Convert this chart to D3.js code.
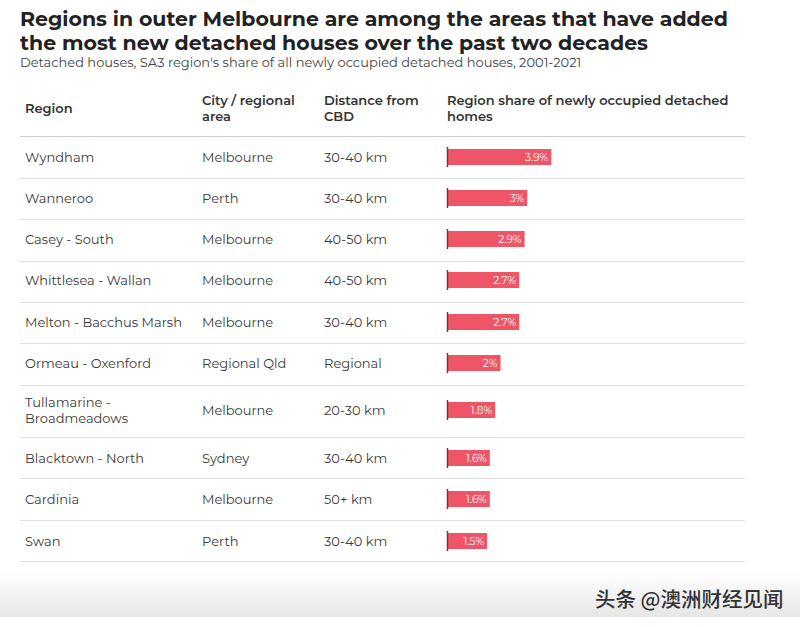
<!DOCTYPE html>
<html><head><meta charset="utf-8">
<script src="https://cdn.jsdelivr.net/npm/d3@7"></script>
<style>body{margin:0;background:#fff;}svg{display:block;}</style>
</head><body>
<script>
const regions = ["Wyndham","Wanneroo","Casey - South","Whittlesea - Wallan","Melton - Bacchus Marsh","Ormeau - Oxenford","Tullamarine - Broadmeadows","Blacktown - North","Cardinia","Swan"];
const areas = ["Melbourne","Perth","Melbourne","Melbourne","Melbourne","Regional Qld","Melbourne","Sydney","Melbourne","Perth"];
const distances = ["30-40 km","30-40 km","40-50 km","40-50 km","30-40 km","Regional","20-30 km","30-40 km","50+ km","30-40 km"];
const shares = [3.9,3.0,2.9,2.7,2.7,2.0,1.8,1.6,1.6,1.5];
const shareLabels = ["3.9%","3%","2.9%","2.7%","2.7%","2%","1.8%","1.6%","1.6%","1.5%"];
const headers = [["Region"],["City / regional","area"],["Distance from","CBD"],["Region share of newly occupied detached","homes"]];

const W=800,H=627;
const font="Montserrat, 'Open Sans', 'DejaVu Sans', sans-serif";
const svg=d3.select("body").append("svg").attr("width",W).attr("height",H).style("font-family",font);

const grad=svg.append("defs").append("linearGradient").attr("id","g").attr("x1",0).attr("x2",0).attr("y1",0).attr("y2",1);
grad.append("stop").attr("offset","0%").attr("stop-color","#ffffff");
grad.append("stop").attr("offset","100%").attr("stop-color","#e6e6e6");
svg.append("rect").attr("x",0).attr("y",572).attr("width",W).attr("height",45).attr("fill","url(#g)");

svg.append("text").attr("x",20).attr("y",26).attr("font-size",20.5).attr("font-weight",700).attr("fill","#222").text("Regions in outer Melbourne are among the areas that have added");
svg.append("text").attr("x",20).attr("y",50).attr("font-size",20.5).attr("font-weight",700).attr("fill","#222").text("the most new detached houses over the past two decades");
svg.append("text").attr("x",20).attr("y",67).attr("font-size",13).attr("fill","#444").text("Detached houses, SA3 region's share of all newly occupied detached houses, 2001-2021");

const colX=[25,202,324,447];
headers.forEach((h,i)=>{
  const t=svg.append("text").attr("font-size",13).attr("font-weight",600).attr("fill","#333");
  if(h.length===1){ t.append("tspan").attr("x",colX[i]).attr("y",113).text(h[0]); }
  else h.forEach((s,j)=>t.append("tspan").attr("x",colX[i]).attr("y",105+j*16).text(s));
});

const rowCenters=[157,198,239,280,322,363,410,458,499,541];
const seps=[136,178,219,261,302,343,385,437,478,520,561];
svg.selectAll("line.sep").data(seps).join("line").attr("class","sep")
  .attr("x1",20).attr("x2",745).attr("y1",d=>d+0.5).attr("y2",d=>d+0.5)
  .attr("stroke",d=>d===136?"#ccc":"#e2e2e2").attr("stroke-width",1);

const x=d3.scaleLinear().domain([0,4]).range([447,554]);
const rows=svg.selectAll("g.row").data(regions).join("g").attr("class","row");
rows.each(function(r,i){
  const g=d3.select(this), cy=rowCenters[i];
  const tc="#3a3a3a";
  if(r==="Tullamarine - Broadmeadows"){
    const t=g.append("text").attr("font-size",13).attr("fill",tc);
    t.append("tspan").attr("x",25).attr("y",cy-3).text("Tullamarine -");
    t.append("tspan").attr("x",25).attr("y",cy+13).text("Broadmeadows");
  } else {
    g.append("text").attr("x",25).attr("y",cy+5).attr("font-size",13).attr("fill",tc).text(r);
  }
  g.append("text").attr("x",202).attr("y",cy+5).attr("font-size",13).attr("fill",tc).text(areas[i]);
  g.append("text").attr("x",324).attr("y",cy+5).attr("font-size",13).attr("fill",tc).text(distances[i]);
  g.append("rect").attr("x",x(0)).attr("y",cy-8).attr("width",x(shares[i])-x(0)).attr("height",16).attr("fill","#ee5566");
  g.append("line").attr("x1",x(0)+0.5).attr("x2",x(0)+0.5).attr("y1",cy-10).attr("y2",cy+10).attr("stroke","#8a2a35").attr("stroke-width",1.5);
  g.append("text").attr("x",x(shares[i])-3).attr("y",cy+4).attr("text-anchor","end").attr("font-size",10.5).attr("fill","#fff").text(shareLabels[i]);
});

svg.append("text").attr("x",595).attr("y",607).attr("font-size",20.5).attr("font-weight",500).attr("fill","#333").attr("font-family","'Noto Sans CJK SC', sans-serif").text("头条 @澳洲财经见闻");
</script>
</body></html>
